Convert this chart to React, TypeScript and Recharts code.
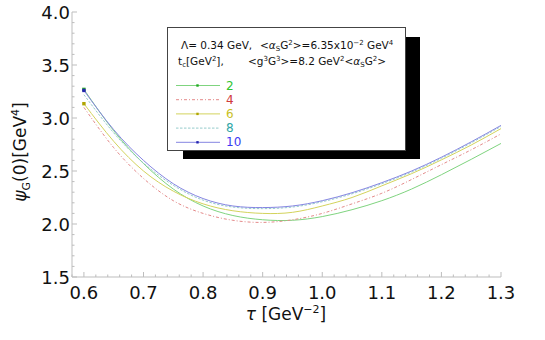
import React from 'react';
import { LineChart, Line, XAxis, YAxis } from 'recharts';

const tau = [0.6, 0.65, 0.7, 0.75, 0.8, 0.85, 0.9, 0.95, 1.0, 1.05, 1.1, 1.15, 1.2, 1.25, 1.3];
const psiTc2 = [3.27, 2.88, 2.57, 2.33, 2.17, 2.08, 2.04, 2.035, 2.07, 2.135, 2.22, 2.33, 2.465, 2.61, 2.76];
const psiTc4 = [3.10, 2.72, 2.43, 2.22, 2.10, 2.035, 2.015, 2.04, 2.10, 2.19, 2.29, 2.42, 2.56, 2.70, 2.85];
const psiTc6 = [3.135, 2.78, 2.50, 2.31, 2.19, 2.125, 2.10, 2.11, 2.17, 2.25, 2.36, 2.475, 2.605, 2.745, 2.90];
const psiTc8 = [3.22, 2.86, 2.575, 2.365, 2.225, 2.16, 2.145, 2.16, 2.21, 2.285, 2.38, 2.49, 2.62, 2.765, 2.92];
const psiTc10 = [3.26, 2.89, 2.60, 2.38, 2.24, 2.17, 2.155, 2.17, 2.22, 2.295, 2.39, 2.50, 2.63, 2.775, 2.93];

const seriesLabels = ['2', '4', '6', '8', '10'];
const xDomain: [number, number] = [0.58, 1.3];
const yDomain: [number, number] = [1.5, 4.0];

const xTicks: number[] = [];
for (let i = 29; i <= 65; i++) xTicks.push(+(i * 0.02).toFixed(2));
const yTicks: number[] = [];
for (let i = 15; i <= 40; i++) yTicks.push(+(i * 0.1).toFixed(1));

const data = tau.map((t, i) => ({
  tau: t,
  s2: psiTc2[i],
  s4: psiTc4[i],
  s6: psiTc6[i],
  s8: psiTc8[i],
  s10: psiTc10[i],
}));

const FONT = 'DejaVu Sans, sans-serif';
const FRAME = '#bdbdbd';

const isMult = (v: number, step: number) => Math.abs(v / step - Math.round(v / step)) < 1e-6;

const BottomTick = (p: any) => {
  const { x, y, payload } = p;
  const v = payload.value;
  const major = isMult(v, 0.1);
  return (
    <g>
      <line x1={x} x2={x} y1={y} y2={y - (major ? 5 : 2.5)} stroke={FRAME} />
      {major && (
        <text x={x} y={y + 22} textAnchor="middle" fontFamily={FONT} fontSize={18} fill="#111">
          {v.toFixed(1)}
        </text>
      )}
    </g>
  );
};
const TopTick = (p: any) => {
  const { x, y, payload } = p;
  const major = isMult(payload.value, 0.1);
  return <line x1={x} x2={x} y1={y} y2={y + (major ? 5 : 2.5)} stroke={FRAME} />;
};
const LeftTick = (p: any) => {
  const { x, y, payload } = p;
  const v = payload.value;
  const major = isMult(v, 0.5);
  return (
    <g>
      <line x1={x} x2={x + (major ? 5 : 2.5)} y1={y} y2={y} stroke={FRAME} />
      {major && (
        <text x={x - 2} y={y + 6.5} textAnchor="end" fontFamily={FONT} fontSize={18} fill="#111">
          {v.toFixed(1)}
        </text>
      )}
    </g>
  );
};
const RightTick = (p: any) => {
  const { x, y, payload } = p;
  const major = isMult(payload.value, 0.5);
  return <line x1={x} x2={x - (major ? 5 : 2.5)} y1={y} y2={y} stroke={FRAME} />;
};

const makeDot = (color: string) => (p: any) => {
  if (p.index !== 0) return <g key={`d${p.index}`} />;
  return <rect key={`d${p.index}`} x={p.cx - 1.7} y={p.cy - 1.7} width={3.4} height={3.4} fill={color} />;
};

const lineStroke = ['#7fd47f', '#e48a8a', '#d3d35c', '#96cccc', '#8585e2'];
const labelColor = ['#2fc42f', '#d03a3a', '#c9bf1e', '#2fa6a6', '#3b3bf2'];
const dash = [undefined, '3 2 1 2', undefined, '2.5 1.5', undefined];
const markerColor = ['#22aa22', null, '#b0a400', null, '#2424b0'];
const keys = ['s2', 's4', 's6', 's8', 's10'];

export default function App() {
  return (
    <div style={{ position: 'absolute', left: 0, top: 0, width: 545, height: 340 }}>
      <LineChart width={545} height={340} data={data} margin={{ top: 12, right: 44, bottom: 33, left: 32 }}>
        <XAxis
          xAxisId="b"
          dataKey="tau"
          type="number"
          domain={xDomain}
          allowDataOverflow
          ticks={xTicks}
          interval={0}
          tick={BottomTick}
          tickLine={false}
          tickSize={0}
          tickMargin={0}
          height={30}
          axisLine={{ stroke: FRAME }}
        />
        <XAxis
          xAxisId="t"
          orientation="top"
          dataKey="tau"
          type="number"
          domain={xDomain}
          allowDataOverflow
          ticks={xTicks}
          interval={0}
          tick={TopTick}
          tickLine={false}
          tickSize={0}
          tickMargin={0}
          height={0}
          axisLine={{ stroke: FRAME }}
        />
        <YAxis
          yAxisId="l"
          type="number"
          domain={yDomain}
          allowDataOverflow
          ticks={yTicks}
          interval={0}
          tick={LeftTick}
          tickLine={false}
          tickSize={0}
          tickMargin={0}
          width={40}
          axisLine={{ stroke: FRAME }}
        />
        <YAxis
          yAxisId="r"
          orientation="right"
          type="number"
          domain={yDomain}
          allowDataOverflow
          ticks={yTicks}
          interval={0}
          tick={RightTick}
          tickLine={false}
          tickSize={0}
          tickMargin={0}
          width={0}
          axisLine={{ stroke: FRAME }}
        />
        {keys.map((k, i) => (
          <Line
            key={k}
            xAxisId="b"
            yAxisId="l"
            dataKey={k}
            type="natural"
            stroke={lineStroke[i]}
            strokeWidth={1}
            strokeDasharray={dash[i]}
            dot={markerColor[i] ? makeDot(markerColor[i] as string) : false}
            activeDot={false}
            isAnimationActive={false}
          />
        ))}
      </LineChart>
      <svg
        width={545}
        height={340}
        style={{ position: 'absolute', left: 0, top: 0, pointerEvents: 'none' }}
        fontFamily={FONT}
      >
        <text transform="translate(26,152) rotate(-90)" textAnchor="middle" fontSize={17} fill="#111">
          <tspan fontStyle="italic">ψ</tspan>
          <tspan fontSize={11} dy={4}>G</tspan>
          <tspan dy={-4}>(0)[GeV</tspan>
          <tspan fontSize={11} dy={-7}>4</tspan>
          <tspan dy={7}>]</tspan>
        </text>
        <text x={286} y={320} textAnchor="middle" fontSize={17} fill="#111">
          <tspan fontStyle="italic">τ</tspan>
          <tspan> [GeV</tspan>
          <tspan fontSize={11} dy={-7}>−2</tspan>
          <tspan dy={7}>]</tspan>
        </text>

        <rect x={183} y={37} width={237} height={122} fill="#000" />
        <rect x={167.5} y={27.5} width={238} height={123} fill="#fff" stroke="#444" strokeWidth={1} />

        <text x={181} y={49} fontSize={10.5} fill="#111">Λ= 0.34 GeV,</text>
        <text x={260} y={49} fontSize={10.5} fill="#111">
          <tspan>&lt;</tspan>
          <tspan fontStyle="italic">α</tspan>
          <tspan fontSize={7} dy={2}>S</tspan>
          <tspan dy={-2}>G</tspan>
          <tspan fontSize={7} dy={-4}>2</tspan>
          <tspan dy={4}>&gt;=6.35x10</tspan>
          <tspan fontSize={7} dy={-4}>−2</tspan>
          <tspan dy={4}> GeV</tspan>
          <tspan fontSize={7} dy={-4}>4</tspan>
        </text>
        <text x={178} y={65} fontSize={10.5} fill="#111">
          <tspan>t</tspan>
          <tspan fontSize={7} dy={2}>c</tspan>
          <tspan dy={-2}>[GeV</tspan>
          <tspan fontSize={7} dy={-4}>2</tspan>
          <tspan dy={4}>],</tspan>
        </text>
        <text x={248} y={65} fontSize={10.5} fill="#111">
          <tspan>&lt;g</tspan>
          <tspan fontSize={7} dy={-4}>3</tspan>
          <tspan dy={4}>G</tspan>
          <tspan fontSize={7} dy={-4}>3</tspan>
          <tspan dy={4}>&gt;=8.2 GeV</tspan>
          <tspan fontSize={7} dy={-4}>2</tspan>
          <tspan dy={4}>&lt;</tspan>
          <tspan fontStyle="italic">α</tspan>
          <tspan fontSize={7} dy={2}>S</tspan>
          <tspan dy={-2}>G</tspan>
          <tspan fontSize={7} dy={-4}>2</tspan>
          <tspan dy={4}>&gt;</tspan>
        </text>

        {seriesLabels.map((lab, i) => {
          const yc = 85.5 + i * 14.2;
          return (
            <g key={lab}>
              <line x1={176} x2={220} y1={yc} y2={yc} stroke={lineStroke[i]} strokeWidth={1} strokeDasharray={dash[i]} />
              {markerColor[i] && (
                <rect x={196.3} y={yc - 1.2} width={2.4} height={2.4} fill={markerColor[i] as string} />
              )}
              <text x={226} y={yc + 4} fontSize={12} fill={labelColor[i]}>
                {lab}
              </text>
            </g>
          );
        })}
      </svg>
    </div>
  );
}
